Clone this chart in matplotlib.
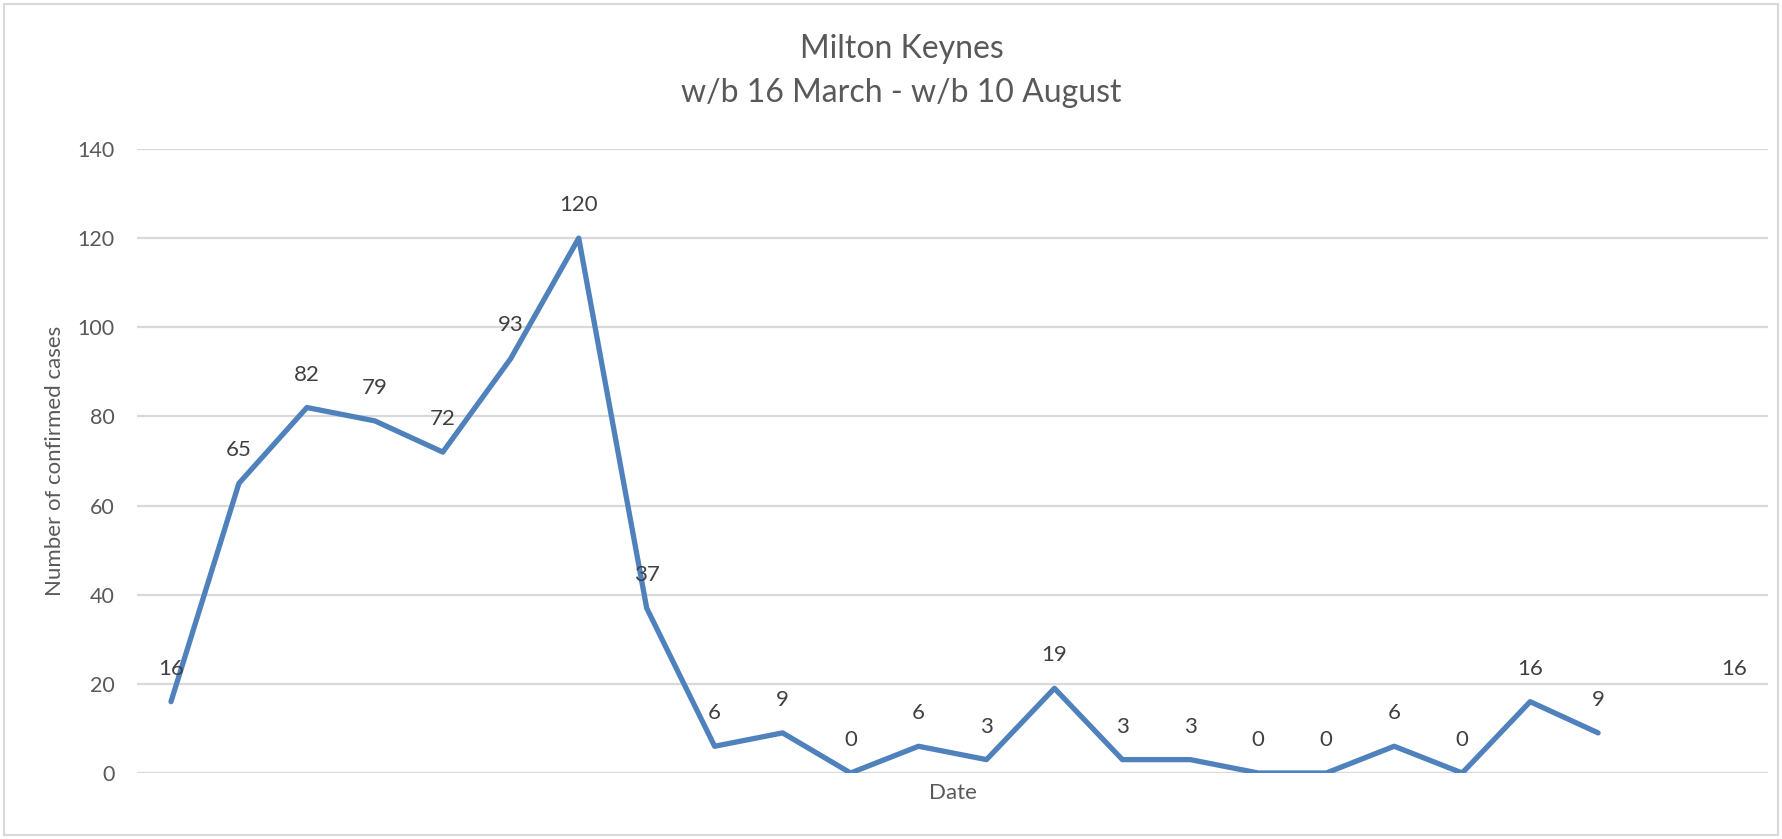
import numpy as np
import matplotlib.pyplot as plt
from matplotlib.patches import Rectangle

# semanas (w/b) - no se muestran como etiquetas en el eje
semanas = ["16 Mar", "23 Mar", "30 Mar", "06 Apr", "13 Apr", "20 Apr",
           "27 Apr", "04 May", "11 May", "18 May", "25 May", "01 Jun",
           "08 Jun", "15 Jun", "22 Jun", "29 Jun", "06 Jul", "13 Jul",
           "20 Jul", "27 Jul", "03 Aug", "10 Aug", "17 Aug", "24 Aug"]
casos = [16, 65, 82, 79, 72, 93, 120, 37, 6, 9, 0, 6, 3, 19, 3, 3,
         0, 0, 6, 0, 16, 9, np.nan, 16]
yticks = [0, 20, 40, 60, 80, 100, 120, 140]

gris = "#595959"
azul = "#4f81bd"
plt.rcParams["font.family"] = ["Lato", "DejaVu Sans"]

fig = plt.figure(figsize=(17.82, 8.39), dpi=100)
ax = fig.add_axes([137 / 1782, 1 - 773 / 839, (1768 - 137) / 1782, (773 - 149) / 839])

x = np.arange(len(semanas))
ax.plot(x, casos, color=azul, lw=3.8, solid_capstyle="round",
        solid_joinstyle="round", zorder=3)

# etiquetas de datos encima de cada punto
for xi, v in zip(x, casos):
    if np.isnan(v):
        continue
    ax.annotate(f"{int(v)}", (xi, v), xytext=(0, 33), textcoords="offset pixels",
                ha="center", va="center", fontsize=16, color="#404040", zorder=4)

ax.set_xlim(-0.5, len(semanas) - 0.5)
ax.set_ylim(0, 140)
ax.set_yticks(yticks)
ax.set_xticks([])
ax.tick_params(axis="y", length=0, pad=16, labelsize=15.5, labelcolor=gris)
ax.yaxis.grid(True, color="#d9d9d9", lw=1.6)
ax.set_axisbelow(True)
for s in ax.spines.values():
    s.set_visible(False)

ax.set_ylabel("Number of confirmed cases", fontsize=16, color=gris)
ax.yaxis.set_label_coords(-0.0503, 0.5)
ax.set_xlabel("Date", fontsize=16, color=gris)
ax.xaxis.set_label_coords(0.5, -0.032)
ax.xaxis.label.set_va("center")
ax.yaxis.label.set_va("center")

fig.text(0.506, 1 - 49 / 839, "Milton Keynes", ha="center", va="center",
         fontsize=23, color=gris)
fig.text(0.506, 1 - 93 / 839, "w/b 16 March - w/b 10 August", ha="center",
         va="center", fontsize=23, color=gris)

# borde del grafico
fig.patches.append(Rectangle((4 / 1782, 4 / 839), 1 - 8 / 1782, 1 - 8 / 839,
                             transform=fig.transFigure, fill=False,
                             edgecolor="#d9d9d9", lw=1.5))

fig.savefig("out.png", dpi=100)
